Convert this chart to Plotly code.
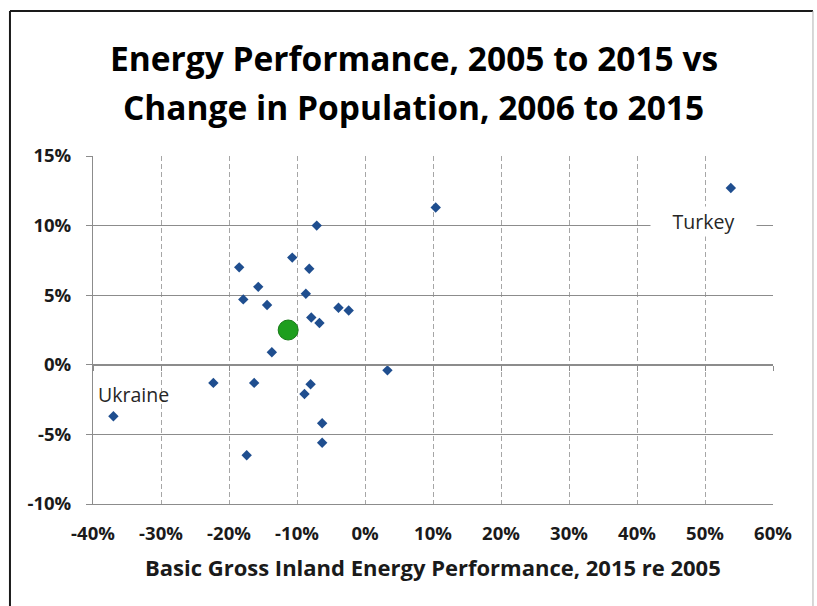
import plotly.graph_objects as go

# Energy performance change (x, %) vs population change (y, %) by country
energy_change = [10.4, -7.1, -10.7, -18.5, -8.2, -15.7, -8.7, -17.9, -14.4, -3.9,
                 -2.4, -7.9, -6.7, -13.7, 3.3, -22.3, -16.3, -8.0, -8.9, -37.0,
                 -6.3, -6.3, -17.4, 53.8]
population_change = [11.3, 10.0, 7.7, 7.0, 6.9, 5.6, 5.1, 4.7, 4.3, 4.1,
                     3.9, 3.4, 3.0, 0.9, -0.4, -1.3, -1.3, -1.4, -2.1, -3.7,
                     -4.2, -5.6, -6.5, 12.7]

# Group average
avg_energy = [-11.3]
avg_population = [2.5]

# Labelled countries: (name, x, y)
labels = [("Ukraine", -34.1, -2.15), ("Turkey", 49.8, 10.3)]

# Axis ticks
x_tickvals = [-40, -30, -20, -10, 0, 10, 20, 30, 40, 50, 60]
x_ticktext = ["-40%", "-30%", "-20%", "-10%", "0%", "10%", "20%", "30%", "40%", "50%", "60%"]
y_tickvals = [-10, -5, 0, 5, 10, 15]
y_ticktext = ["-10%", "-5%", "0%", "5%", "10%", "15%"]

x_range = [-40, 60]
y_range = [-10, 15]

FONT = "Open Sans"
GRID = "#8c8c8c"
VGRID = "#a6a6a6"

fig = go.Figure()

fig.add_trace(go.Scatter(
    x=energy_change, y=population_change, mode="markers",
    marker=dict(symbol="diamond", size=8, color="#1F4E8F"),
    showlegend=False, hoverinfo="x+y",
))

fig.add_trace(go.Scatter(
    x=avg_energy, y=avg_population, mode="markers", xaxis="x2",
    marker=dict(symbol="circle", size=20, color="#1E9E1E",
                line=dict(color="#167A16", width=1)),
    showlegend=False, hoverinfo="x+y",
))

for name, lx, ly in labels:
    fig.add_annotation(
        x=lx, y=ly, xref="x", yref="y", text=name, showarrow=False,
        font=dict(family=FONT, size=19.5, color="#262626"),
        bgcolor="white" if name == "Turkey" else "rgba(0,0,0,0)",
        width=103 if name == "Turkey" else None,
        xanchor="center", yanchor="middle",
    )

# Two-line title
title_font = dict(family=FONT, size=33.5, color="black", weight="bold")
fig.add_annotation(x=0.472, y=1.2815, xref="paper", yref="paper",
                   text="Energy Performance, 2005 to 2015 vs", showarrow=False,
                   font=title_font, xanchor="center", yanchor="middle")
fig.add_annotation(x=0.472, y=1.1407, xref="paper", yref="paper",
                   text="Change in Population, 2006 to 2015", showarrow=False,
                   font=title_font, xanchor="center", yanchor="middle")

# X axis title
fig.add_annotation(x=0.4993, y=-0.181, xref="paper", yref="paper",
                   text="Basic Gross Inland Energy Performance, 2015 re 2005",
                   showarrow=False,
                   font=dict(family=FONT, size=22, color="#1a1a1a", weight="bold"),
                   xanchor="center", yanchor="middle")

# Chart frame
fig.add_shape(type="line", xref="paper", yref="paper", x0=-0.1221, x1=1.0588,
              y0=1.4167, y1=1.4167, line=dict(color="#1a1a1a", width=2))
fig.add_shape(type="line", xref="paper", yref="paper", x0=-0.1221, x1=-0.1221,
              y0=1.4167, y1=-0.32, line=dict(color="#1a1a1a", width=2))
fig.add_shape(type="line", xref="paper", yref="paper", x0=1.0588, x1=1.0588,
              y0=1.4167, y1=-0.32, line=dict(color="#b0b0b0", width=1))

tickfont = dict(family=FONT, size=18.5, color="#1a1a1a", weight="bold")

fig.update_layout(
    width=817, height=606,
    margin=dict(l=93, r=44, t=156, b=102),
    paper_bgcolor="white", plot_bgcolor="white",
    xaxis=dict(
        range=x_range, tickmode="array", tickvals=x_tickvals, ticktext=x_ticktext,
        showgrid=True, gridcolor=VGRID, griddash="5px,3px", gridwidth=1,
        zeroline=False, showline=True, linecolor=GRID, linewidth=1,
        ticks="", tickfont=tickfont, ticklabelstandoff=13,
    ),
    xaxis2=dict(
        range=x_range, tickmode="array", tickvals=x_tickvals,
        overlaying="x", anchor="free", position=0.4, side="bottom",
        showgrid=False, zeroline=False, showline=True, linecolor=GRID, linewidth=1,
        ticks="outside", ticklen=5, tickcolor=GRID, showticklabels=False,
    ),
    yaxis=dict(
        range=y_range, tickmode="array", tickvals=y_tickvals, ticktext=y_ticktext,
        showgrid=True, gridcolor=GRID, gridwidth=1, zeroline=False,
        showline=True, linecolor=GRID, linewidth=1,
        ticks="outside", ticklen=6, tickcolor=GRID,
        tickfont=tickfont, ticklabelstandoff=11,
    ),
)

fig.write_html("out.html")
